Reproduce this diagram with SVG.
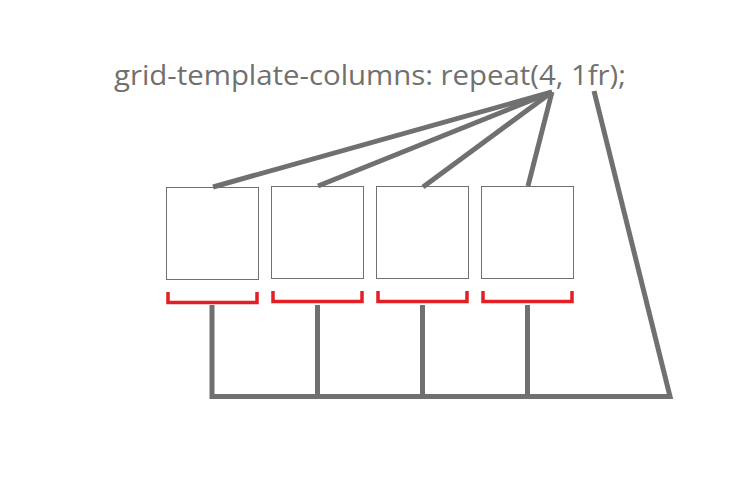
<svg xmlns="http://www.w3.org/2000/svg" width="740" height="500" viewBox="0 0 740 500">
<style>
.lbl{font-family:"Open Sans","Noto Sans","Liberation Sans",sans-serif;font-size:28px;fill:#707070}
.box{fill:#ffffff;stroke:#707070;stroke-width:1}
.br{fill:none;stroke:#e31e24;stroke-width:3.5}
.con{fill:none;stroke:#707070;stroke-width:5}
</style>
<rect width="740" height="500" fill="#ffffff"/>
<g id="label"><text class="lbl" x="114" y="85" textLength="512" lengthAdjust="spacingAndGlyphs">grid-template-columns: repeat(4, 1fr);</text></g>
<g id="col1"><rect class="box" x="166.5" y="187.5" width="92" height="92"/><path class="br" d="M168,292 V302.5 H257 V292"/></g>
<g id="col2"><rect class="box" x="271.5" y="186.5" width="92" height="92"/><path class="br" d="M273,291 V301.5 H362 V291"/></g>
<g id="col3"><rect class="box" x="376.5" y="186.5" width="92" height="92"/><path class="br" d="M378,291 V301.5 H467 V291"/></g>
<g id="col4"><rect class="box" x="481.5" y="186.5" width="92" height="92"/><path class="br" d="M483,291 V301.5 H572 V291"/></g>
<g id="connectors">
<path class="con" d="M552,92 L213,187"/>
<path class="con" d="M552,92 L318,186"/>
<path class="con" d="M552,92 L423,187"/>
<path class="con" d="M552,92 L528,186"/>
<path class="con" d="M212,305 V396.5 H670 L594,91"/>
<path class="con" d="M317.5,305 V396.5"/>
<path class="con" d="M422.5,305 V396.5"/>
<path class="con" d="M527.5,305 V396.5"/>
</g>
</svg>
